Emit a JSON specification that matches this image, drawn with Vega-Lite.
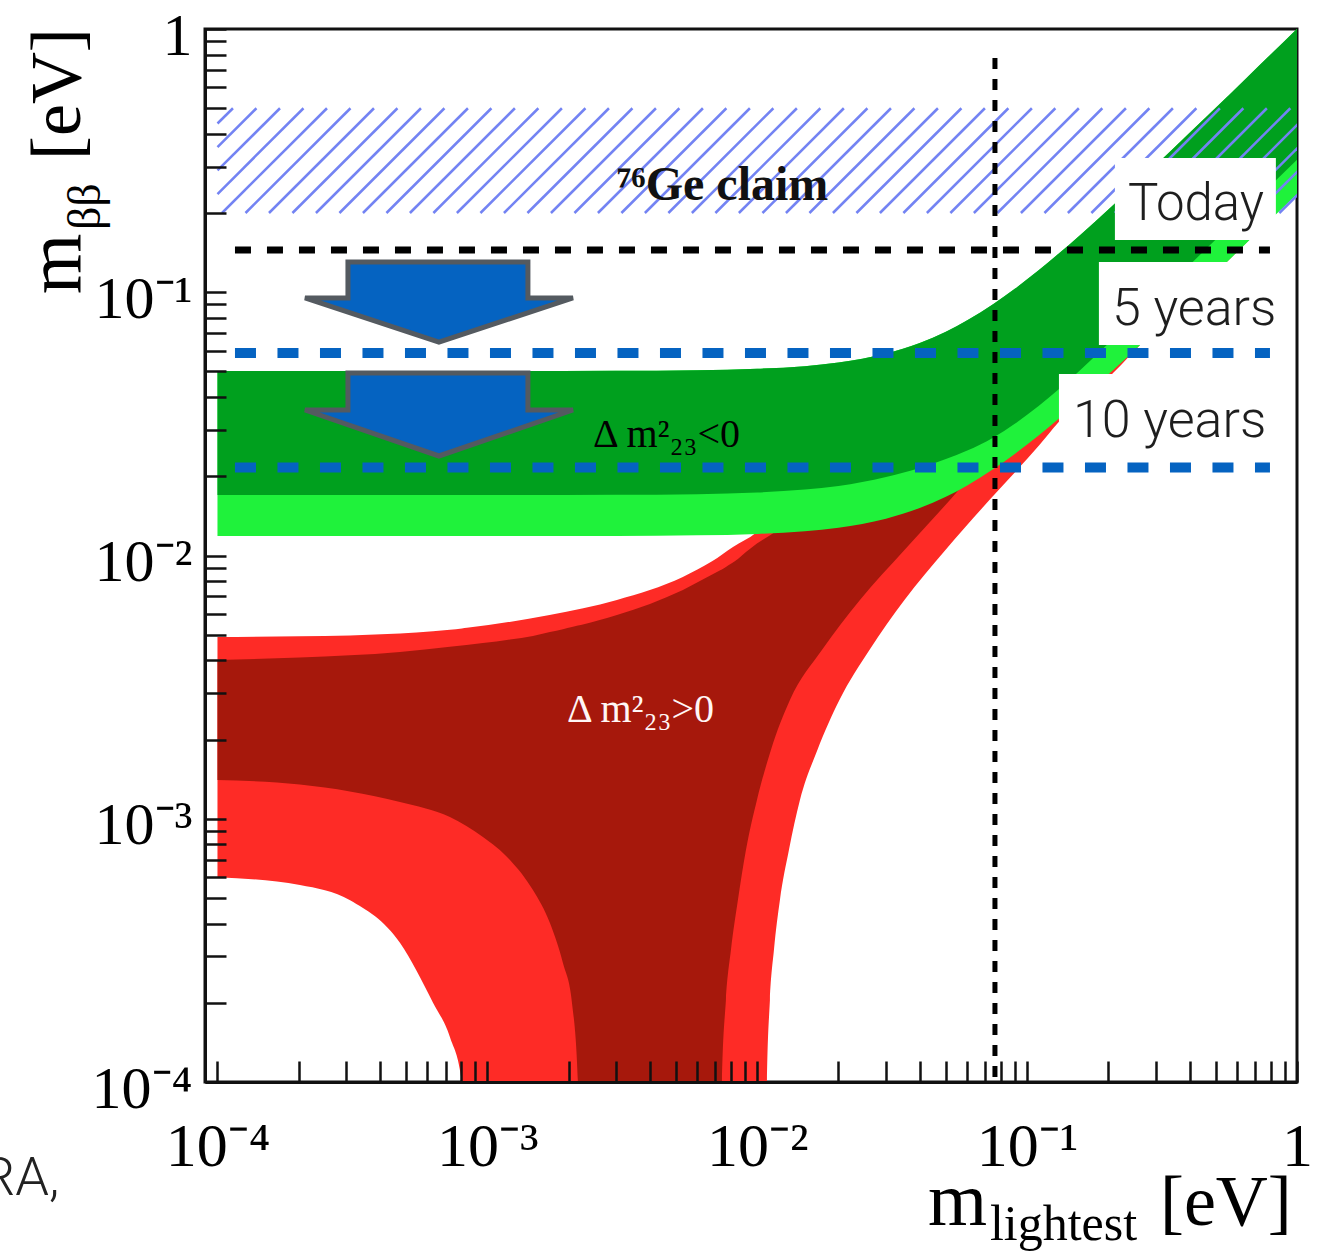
{
"$schema": "https://vega.github.io/schema/vega-lite/v6.json",
"width": 1092,
"height": 1053,
"autosize": "none",
"padding": {"left": 205, "top": 29, "right": 26, "bottom": 172},
"background": "#ffffff",
"config": {"view": {"stroke": "#111111", "strokeWidth": 3}, "axis": {"labelFont": "Liberation Serif"}},
"datasets": {
"one": [{"k": 1}],
"nh3": [
{"m":0.0001,"lo":0.0006,"hi":0.0049},
{"m":0.000202,"lo":0.00056,"hi":0.00493},
{"m":0.00031,"lo":0.00049,"hi":0.00497},
{"m":0.000475,"lo":0.000337,"hi":0.00505},
{"m":0.000629,"lo":0.0002,"hi":0.00515},
{"m":0.000727,"lo":0.000148,"hi":0.00522},
{"m":0.000805,"lo":0.0001,"hi":0.00528},
{"m":0.00084,"lo":0.000001,"hi":0.00531},
{"m":0.0017,"lo":0.000001,"hi":0.00594},
{"m":0.00302,"lo":0.000001,"hi":0.00678},
{"m":0.0053,"lo":0.000001,"hi":0.00829},
{"m":0.0068,"lo":0.000001,"hi":0.0095},
{"m":0.00813,"lo":0.000001,"hi":0.01077},
{"m":0.0099,"lo":0.000001,"hi":0.0122},
{"m":0.0107,"lo":0.000001,"hi":0.0131},
{"m":0.010862,"lo":0.0001,"hi":0.0133},
{"m":0.011143,"lo":0.00020491,"hi":0.0136},
{"m":0.01153,"lo":0.0003172,"hi":0.0139},
{"m":0.012135,"lo":0.0004912,"hi":0.0145},
{"m":0.013104,"lo":0.0007608,"hi":0.0155},
{"m":0.014395,"lo":0.0011779,"hi":0.0168},
{"m":0.016707,"lo":0.0018247,"hi":0.019},
{"m":0.020163,"lo":0.0028259,"hi":0.0225},
{"m":0.026042,"lo":0.004375,"hi":0.0285},
{"m":0.035112,"lo":0.006776,"hi":0.037},
{"m":0.04981,"lo":0.010493,"hi":0.051},
{"m":0.07248,"lo":0.016247,"hi":0.073},
{"m":0.11106,"lo":0.026288,"hi":0.11},
{"m":0.13,"lo":0.0319,"hi":0.128},
{"m":0.186,"lo":0.044,"hi":0.18},
{"m":0.3,"lo":0.0725,"hi":0.29},
{"m":0.437,"lo":0.104,"hi":0.42},
{"m":1,"lo":0.24,"hi":0.97}
],
"nh1": [
{"m":0.0001,"lo":0.001404,"hi":0.00401},
{"m":0.000202,"lo":0.00135,"hi":0.0041},
{"m":0.0004745,"lo":0.001158,"hi":0.0043},
{"m":0.0007265,"lo":0.001015,"hi":0.0045},
{"m":0.000963,"lo":0.000852,"hi":0.00465},
{"m":0.0012128,"lo":0.000697,"hi":0.0048},
{"m":0.0014755,"lo":0.000536,"hi":0.00495},
{"m":0.0017056,"lo":0.000402,"hi":0.00512},
{"m":0.0019058,"lo":0.000283,"hi":0.00525},
{"m":0.002058,"lo":0.0002,"hi":0.00535},
{"m":0.002166,"lo":0.0001,"hi":0.00542},
{"m":0.00222,"lo":0.000001,"hi":0.00545},
{"m":0.003021,"lo":0.000001,"hi":0.00594},
{"m":0.005305,"lo":0.000001,"hi":0.0074},
{"m":0.00732,"lo":0.000001,"hi":0.0088},
{"m":0.007399,"lo":0.0001,"hi":0.00885},
{"m":0.007655,"lo":0.00020491,"hi":0.00905},
{"m":0.007989,"lo":0.0003172,"hi":0.0093},
{"m":0.00848,"lo":0.0004912,"hi":0.0097},
{"m":0.009081,"lo":0.0007608,"hi":0.0103},
{"m":0.009974,"lo":0.0011779,"hi":0.0111},
{"m":0.011238,"lo":0.0018247,"hi":0.012},
{"m":0.013216,"lo":0.0028259,"hi":0.0135},
{"m":0.017362,"lo":0.004375,"hi":0.0175},
{"m":0.024021,"lo":0.006776,"hi":0.024},
{"m":0.035112,"lo":0.010493,"hi":0.035},
{"m":0.05176,"lo":0.016247,"hi":0.051},
{"m":0.1,"lo":0.035,"hi":0.097},
{"m":0.3,"lo":0.1,"hi":0.29},
{"m":1,"lo":0.33,"hi":0.96}
],
"ih": [
{"m":0.0001,"top":0.0502,"lo3":0.01185,"lo1":0.01697},
{"m":0.001,"top":0.0502,"lo3":0.01185,"lo1":0.01697},
{"m":0.003,"top":0.05029,"lo3":0.01187,"lo1":0.017},
{"m":0.006,"top":0.05056,"lo3":0.01193,"lo1":0.01709},
{"m":0.01,"top":0.05119,"lo3":0.01208,"lo1":0.01735},
{"m":0.015,"top":0.05239,"lo3":0.01236,"lo1":0.01781},
{"m":0.02,"top":0.05404,"lo3":0.01275,"lo1":0.01837},
{"m":0.03,"top":0.05848,"lo3":0.0138,"lo1":0.01988},
{"m":0.04,"top":0.06419,"lo3":0.01515,"lo1":0.0215},
{"m":0.05,"top":0.07085,"lo3":0.01672,"lo1":0.02324},
{"m":0.06,"top":0.07823,"lo3":0.01846,"lo1":0.02503},
{"m":0.075,"top":0.09025,"lo3":0.0213,"lo1":0.02807},
{"m":0.09,"top":0.10305,"lo3":0.02432,"lo1":0.03164},
{"m":0.11,"top":0.12091,"lo3":0.02853,"lo1":0.03688},
{"m":0.13,"top":0.13936,"lo3":0.03289,"lo1":0.0425},
{"m":0.16,"top":0.16769,"lo3":0.03957,"lo1":0.05148},
{"m":0.2,"top":0.2062,"lo3":0.04866,"lo1":0.06392},
{"m":0.25,"top":0.25499,"lo3":0.06018,"lo1":0.07956},
{"m":0.3,"top":0.30417,"lo3":0.07178,"lo1":0.09551},
{"m":0.4,"top":0.40314,"lo3":0.09514,"lo1":0.12699},
{"m":0.5,"top":0.50252,"lo3":0.11859,"lo1":0.1588},
{"m":0.65,"top":0.65194,"lo3":0.15386,"lo1":0.20667},
{"m":0.8,"top":0.80157,"lo3":0.18917,"lo1":0.2549},
{"m":1,"top":1.00126,"lo3":0.2363,"lo1":0.3184}
],
"hatch": [
{"hx":0.0001,"hy":0.4376,"hx2":0.00011411,"hy2":0.5},
{"hx":0.0001,"hy":0.3562,"hx2":0.00013945,"hy2":0.5},
{"hx":0.0001,"hy":0.2901,"hx2":0.00017044,"hy2":0.5},
{"hx":0.0001,"hy":0.2361,"hx2":0.00020831,"hy2":0.5},
{"hx":0.00010392,"hy":0.2,"hx2":0.00025452,"hy2":0.5},
{"hx":0.000127,"hy":0.2,"hx2":0.00031105,"hy2":0.5},
{"hx":0.00015518,"hy":0.2,"hx2":0.00038007,"hy2":0.5},
{"hx":0.00018961,"hy":0.2,"hx2":0.00046439,"hy2":0.5},
{"hx":0.00023169,"hy":0.2,"hx2":0.00056746,"hy2":0.5},
{"hx":0.0002831,"hy":0.2,"hx2":0.00069337,"hy2":0.5},
{"hx":0.00034591,"hy":0.2,"hx2":0.0008472,"hy2":0.5},
{"hx":0.00042267,"hy":0.2,"hx2":0.0010352,"hy2":0.5},
{"hx":0.00051646,"hy":0.2,"hx2":0.0012649,"hy2":0.5},
{"hx":0.00063106,"hy":0.2,"hx2":0.0015456,"hy2":0.5},
{"hx":0.00077109,"hy":0.2,"hx2":0.0018886,"hy2":0.5},
{"hx":0.00094282,"hy":0.2,"hx2":0.0023092,"hy2":0.5},
{"hx":0.0011522,"hy":0.2,"hx2":0.002822,"hy2":0.5},
{"hx":0.0014078,"hy":0.2,"hx2":0.003448,"hy2":0.5},
{"hx":0.0017202,"hy":0.2,"hx2":0.0042131,"hy2":0.5},
{"hx":0.0021019,"hy":0.2,"hx2":0.005148,"hy2":0.5},
{"hx":0.0025684,"hy":0.2,"hx2":0.0062905,"hy2":0.5},
{"hx":0.0031383,"hy":0.2,"hx2":0.0076863,"hy2":0.5},
{"hx":0.0038347,"hy":0.2,"hx2":0.009392,"hy2":0.5},
{"hx":0.0046857,"hy":0.2,"hx2":0.0114762,"hy2":0.5},
{"hx":0.0057254,"hy":0.2,"hx2":0.0140226,"hy2":0.5},
{"hx":0.0069959,"hy":0.2,"hx2":0.0171344,"hy2":0.5},
{"hx":0.0085482,"hy":0.2,"hx2":0.0209363,"hy2":0.5},
{"hx":0.010454,"hy":0.2,"hx2":0.025604,"hy2":0.5},
{"hx":0.012776,"hy":0.2,"hx2":0.031291,"hy2":0.5},
{"hx":0.015611,"hy":0.2,"hx2":0.038234,"hy2":0.5},
{"hx":0.019075,"hy":0.2,"hx2":0.046718,"hy2":0.5},
{"hx":0.023308,"hy":0.2,"hx2":0.057086,"hy2":0.5},
{"hx":0.02848,"hy":0.2,"hx2":0.069753,"hy2":0.5},
{"hx":0.034799,"hy":0.2,"hx2":0.08523,"hy2":0.5},
{"hx":0.04252,"hy":0.2,"hx2":0.10414,"hy2":0.5},
{"hx":0.051954,"hy":0.2,"hx2":0.12725,"hy2":0.5},
{"hx":0.063482,"hy":0.2,"hx2":0.15548,"hy2":0.5},
{"hx":0.077568,"hy":0.2,"hx2":0.18998,"hy2":0.5},
{"hx":0.094845,"hy":0.2,"hx2":0.23229,"hy2":0.5},
{"hx":0.11591,"hy":0.2,"hx2":0.28389,"hy2":0.5},
{"hx":0.14162,"hy":0.2,"hx2":0.34686,"hy2":0.5},
{"hx":0.17305,"hy":0.2,"hx2":0.42383,"hy2":0.5},
{"hx":0.21145,"hy":0.2,"hx2":0.51789,"hy2":0.5},
{"hx":0.25838,"hy":0.2,"hx2":0.63282,"hy2":0.5},
{"hx":0.31571,"hy":0.2,"hx2":0.77324,"hy2":0.5},
{"hx":0.38576,"hy":0.2,"hx2":0.9448,"hy2":0.5},
{"hx":0.47137,"hy":0.2,"hx2":1.15448,"hy2":0.5},
{"hx":0.57596,"hy":0.2,"hx2":1.41064,"hy2":0.5},
{"hx":0.70377,"hy":0.2,"hx2":1.72367,"hy2":0.5},
{"hx":0.86006,"hy":0.2,"hx2":2.10646,"hy2":0.5}
],
"arrows": [
{"a":1,"o":1,"x":0.0003044,"y":0.1302},
{"a":1,"o":2,"x":0.0014135,"y":0.1302},
{"a":1,"o":3,"x":0.0014135,"y":0.0951},
{"a":1,"o":4,"x":0.002076,"y":0.0951},
{"a":1,"o":5,"x":0.0006615,"y":0.06471},
{"a":1,"o":6,"x":0.000211,"y":0.0951},
{"a":1,"o":7,"x":0.0003044,"y":0.0951},
{"a":1,"o":8,"x":0.0003044,"y":0.1302},
{"a":1,"o":9,"x":0.0014135,"y":0.1302},
{"a":2,"o":1,"x":0.0003044,"y":0.04934},
{"a":2,"o":2,"x":0.0014135,"y":0.04934},
{"a":2,"o":3,"x":0.0014135,"y":0.0357},
{"a":2,"o":4,"x":0.002076,"y":0.0357},
{"a":2,"o":5,"x":0.0006615,"y":0.02388},
{"a":2,"o":6,"x":0.000211,"y":0.0357},
{"a":2,"o":7,"x":0.0003044,"y":0.0357},
{"a":2,"o":8,"x":0.0003044,"y":0.04934},
{"a":2,"o":9,"x":0.0014135,"y":0.04934}
]
},
"layer": [
{"data": {"name": "nh3"},
 "mark": {"type": "area", "color": "#fe2b26", "opacity": 1, "clip": true, "interpolate": "monotone"},
 "encoding": {
  "x": {"field": "m", "type": "quantitative", "scale": {"type": "log", "domain": [0.0000899, 1], "nice": false},
   "axis": {"orient": "bottom", "title": null, "grid": false, "domain": true, "domainColor": "#111111", "domainWidth": 3,
    "ticks": true, "tickSize": -21, "tickColor": "#111111", "tickWidth": 2.5,
    "values": [0.0001,0.0002,0.0003,0.0004,0.0005,0.0006,0.0007,0.0008,0.0009,0.001,0.002,0.003,0.004,0.005,0.006,0.007,0.008,0.009,0.01,0.02,0.03,0.04,0.05,0.06,0.07,0.08,0.09,0.1,0.2,0.3,0.4,0.5,0.6,0.7,0.8,0.9,1],
    "labelExpr": "abs(log(datum.value)/LN10 - round(log(datum.value)/LN10)) > 0.01 ? '' : (round(log(datum.value)/LN10) == 0 ? '1' : '10⁻' + ['', '¹', '²', '³', '⁴'][-round(log(datum.value)/LN10)])",
    "labelFont": "Liberation Serif", "labelFontSize": 62, "labelColor": "#000000", "labelPadding": 104, "labelBaseline": "alphabetic", "labelAlign": "center",
    "labelFlush": false, "labelOverlap": false, "labelBound": false, "zindex": 1,
    "encode": {"ticks": {"y2": {"condition": {"test": "abs(log(datum.value)/LN10 - round(log(datum.value)/LN10)) < 0.01", "value": -40}, "value": -21}}}}},
  "y": {"field": "hi", "type": "quantitative", "scale": {"type": "log", "domain": [0.0001, 1], "nice": false},
   "axis": {"orient": "left", "title": null, "grid": false, "domain": true, "domainColor": "#111111", "domainWidth": 3,
    "ticks": true, "tickSize": -21, "tickColor": "#111111", "tickWidth": 2.5,
    "values": [0.0001,0.0002,0.0003,0.0004,0.0005,0.0006,0.0007,0.0008,0.0009,0.001,0.002,0.003,0.004,0.005,0.006,0.007,0.008,0.009,0.01,0.02,0.03,0.04,0.05,0.06,0.07,0.08,0.09,0.1,0.2,0.3,0.4,0.5,0.6,0.7,0.8,0.9,1],
    "labelExpr": "abs(log(datum.value)/LN10 - round(log(datum.value)/LN10)) > 0.01 ? '' : (round(log(datum.value)/LN10) == 0 ? '1' : '10⁻' + ['', '¹', '²', '³', '⁴'][-round(log(datum.value)/LN10)])",
    "labelFont": "Liberation Serif", "labelFontSize": 60, "labelColor": "#000000", "labelPadding": 34, "labelAlign": "right", "labelBaseline": "alphabetic", "labelOffset": 25,
    "labelFlush": false, "labelOverlap": false, "labelBound": false, "zindex": 1,
    "encode": {"ticks": {"x2": {"condition": {"test": "abs(log(datum.value)/LN10 - round(log(datum.value)/LN10)) < 0.01", "value": 38}, "value": 21}}}}},
  "y2": {"field": "lo"}
 }},
{"data": {"name": "nh1"},
 "mark": {"type": "area", "color": "#a6180c", "opacity": 1, "clip": true, "interpolate": "monotone"},
 "encoding": {
  "x": {"field": "m", "type": "quantitative", "scale": {"type": "log", "domain": [0.0000899, 1], "nice": false}},
  "y": {"field": "hi", "type": "quantitative", "scale": {"type": "log", "domain": [0.0001, 1], "nice": false}},
  "y2": {"field": "lo"}
 }},
{"data": {"name": "ih"},
 "mark": {"type": "area", "color": "#1ff23b", "opacity": 1, "clip": true, "interpolate": "monotone"},
 "encoding": {
  "x": {"field": "m", "type": "quantitative", "scale": {"type": "log", "domain": [0.0000899, 1], "nice": false}},
  "y": {"field": "top", "type": "quantitative", "scale": {"type": "log", "domain": [0.0001, 1], "nice": false}},
  "y2": {"field": "lo3"}
 }},
{"data": {"name": "ih"},
 "mark": {"type": "area", "color": "#00a01e", "opacity": 1, "clip": true, "interpolate": "monotone"},
 "encoding": {
  "x": {"field": "m", "type": "quantitative", "scale": {"type": "log", "domain": [0.0000899, 1], "nice": false}},
  "y": {"field": "top", "type": "quantitative", "scale": {"type": "log", "domain": [0.0001, 1], "nice": false}},
  "y2": {"field": "lo1"}
 }},
{"data": {"name": "hatch"},
 "mark": {"type": "rule", "color": "#7383f3", "strokeWidth": 2.5, "clip": true},
 "encoding": {
  "x": {"field": "hx", "type": "quantitative", "scale": {"type": "log", "domain": [0.0000899, 1], "nice": false}},
  "y": {"field": "hy", "type": "quantitative", "scale": {"type": "log", "domain": [0.0001, 1], "nice": false}},
  "x2": {"field": "hx2"},
  "y2": {"field": "hy2"}
 }},
{"data": {"name": "one"},
 "mark": {"type": "rule", "color": "#000000", "strokeWidth": 5, "strokeDash": [11, 10], "strokeCap": "butt"},
 "encoding": {
  "x": {"datum": 0.076, "type": "quantitative", "scale": {"type": "log", "domain": [0.0000899, 1], "nice": false}},
  "y": {"datum": 0.776, "type": "quantitative", "scale": {"type": "log", "domain": [0.0001, 1], "nice": false}},
  "y2": {"datum": 0.0001}
 }},
{"data": {"name": "one"},
 "mark": {"type": "text", "text": "⁷⁶Ge claim", "font": "Liberation Serif", "fontWeight": "bold", "fontSize": 48, "align": "left", "baseline": "alphabetic", "color": "#111111"},
 "encoding": {
  "x": {"datum": 0.003021, "type": "quantitative", "scale": {"type": "log", "domain": [0.0000899, 1], "nice": false}},
  "y": {"datum": 0.2241, "type": "quantitative", "scale": {"type": "log", "domain": [0.0001, 1], "nice": false}}
 }},
{"data": {"name": "one"},
 "mark": {"type": "text", "text": "Δ m²₂₃<0", "font": "Liberation Serif", "fontSize": 40, "align": "left", "baseline": "alphabetic", "color": "#000000"},
 "encoding": {
  "x": {"datum": 0.002461, "type": "quantitative", "scale": {"type": "log", "domain": [0.0000899, 1], "nice": false}},
  "y": {"datum": 0.02584, "type": "quantitative", "scale": {"type": "log", "domain": [0.0001, 1], "nice": false}}
 }},
{"data": {"name": "one"},
 "mark": {"type": "text", "text": "Δ m²₂₃>0", "font": "Liberation Serif", "fontSize": 40, "align": "left", "baseline": "alphabetic", "color": "#fff6f6"},
 "encoding": {
  "x": {"datum": 0.001972, "type": "quantitative", "scale": {"type": "log", "domain": [0.0000899, 1], "nice": false}},
  "y": {"datum": 0.002331, "type": "quantitative", "scale": {"type": "log", "domain": [0.0001, 1], "nice": false}}
 }},
{"data": {"name": "one"},
 "mark": {"type": "rect", "color": "#ffffff", "opacity": 1},
 "encoding": {
  "x": {"datum": 0.2115, "type": "quantitative", "scale": {"type": "log", "domain": [0.0000899, 1], "nice": false}},
  "x2": {"datum": 0.8351},
  "y": {"datum": 0.3236, "type": "quantitative", "scale": {"type": "log", "domain": [0.0001, 1], "nice": false}},
  "y2": {"datum": 0.158}
 }},
{"data": {"name": "one"},
 "mark": {"type": "rect", "color": "#ffffff", "opacity": 1},
 "encoding": {
  "x": {"datum": 0.1845, "type": "quantitative", "scale": {"type": "log", "domain": [0.0000899, 1], "nice": false}},
  "x2": {"datum": 0.8351},
  "y": {"datum": 0.1302, "type": "quantitative", "scale": {"type": "log", "domain": [0.0001, 1], "nice": false}},
  "y2": {"datum": 0.063}
 }},
{"data": {"name": "one"},
 "mark": {"type": "rect", "color": "#ffffff", "opacity": 1},
 "encoding": {
  "x": {"datum": 0.1312, "type": "quantitative", "scale": {"type": "log", "domain": [0.0000899, 1], "nice": false}},
  "x2": {"datum": 0.8351},
  "y": {"datum": 0.0489, "type": "quantitative", "scale": {"type": "log", "domain": [0.0001, 1], "nice": false}},
  "y2": {"datum": 0.02347}
 }},
{"data": {"name": "one"},
 "mark": {"type": "text", "text": "Today", "font": "Roboto", "fontWeight": 300, "fontSize": 51, "align": "left", "baseline": "alphabetic", "color": "#1e1e1e"},
 "encoding": {
  "x": {"datum": 0.2363, "type": "quantitative", "scale": {"type": "log", "domain": [0.0000899, 1], "nice": false}},
  "y": {"datum": 0.188, "type": "quantitative", "scale": {"type": "log", "domain": [0.0001, 1], "nice": false}}
 }},
{"data": {"name": "one"},
 "mark": {"type": "text", "text": "5 years", "font": "Roboto", "fontWeight": 300, "fontSize": 52, "align": "left", "baseline": "alphabetic", "color": "#1e1e1e"},
 "encoding": {
  "x": {"datum": 0.2061, "type": "quantitative", "scale": {"type": "log", "domain": [0.0000899, 1], "nice": false}},
  "y": {"datum": 0.0751, "type": "quantitative", "scale": {"type": "log", "domain": [0.0001, 1], "nice": false}}
 }},
{"data": {"name": "one"},
 "mark": {"type": "text", "text": "10 years", "font": "Roboto", "fontWeight": 300, "fontSize": 52, "align": "left", "baseline": "alphabetic", "color": "#1e1e1e"},
 "encoding": {
  "x": {"datum": 0.1478, "type": "quantitative", "scale": {"type": "log", "domain": [0.0000899, 1], "nice": false}},
  "y": {"datum": 0.02818, "type": "quantitative", "scale": {"type": "log", "domain": [0.0001, 1], "nice": false}}
 }},
{"data": {"name": "one"},
 "mark": {"type": "rule", "color": "#000000", "strokeWidth": 7, "strokeDash": [16, 16], "strokeCap": "butt"},
 "encoding": {
  "x": {"datum": 0.0001161, "type": "quantitative", "scale": {"type": "log", "domain": [0.0000899, 1], "nice": false}},
  "x2": {"datum": 0.794},
  "y": {"datum": 0.1447, "type": "quantitative", "scale": {"type": "log", "domain": [0.0001, 1], "nice": false}}
 }},
{"data": {"name": "one"},
 "mark": {"type": "rule", "color": "#0563c1", "strokeWidth": 10, "strokeDash": [21, 21.5], "strokeCap": "butt"},
 "encoding": {
  "x": {"datum": 0.0001161, "type": "quantitative", "scale": {"type": "log", "domain": [0.0000899, 1], "nice": false}},
  "x2": {"datum": 0.794},
  "y": {"datum": 0.0588, "type": "quantitative", "scale": {"type": "log", "domain": [0.0001, 1], "nice": false}}
 }},
{"data": {"name": "one"},
 "mark": {"type": "rule", "color": "#0563c1", "strokeWidth": 10, "strokeDash": [21, 21.5], "strokeCap": "butt"},
 "encoding": {
  "x": {"datum": 0.0001161, "type": "quantitative", "scale": {"type": "log", "domain": [0.0000899, 1], "nice": false}},
  "x2": {"datum": 0.794},
  "y": {"datum": 0.0216, "type": "quantitative", "scale": {"type": "log", "domain": [0.0001, 1], "nice": false}}
 }},
{"data": {"name": "arrows"},
 "mark": {"type": "line", "fill": "#0563c1", "stroke": "#545a60", "strokeWidth": 5, "strokeJoin": "miter"},
 "encoding": {
  "x": {"field": "x", "type": "quantitative", "scale": {"type": "log", "domain": [0.0000899, 1], "nice": false}},
  "y": {"field": "y", "type": "quantitative", "scale": {"type": "log", "domain": [0.0001, 1], "nice": false}},
  "detail": {"field": "a"},
  "order": {"field": "o"}
 }},
{"data": {"name": "one"},
 "mark": {"type": "text", "text": "m", "font": "Liberation Serif", "fontSize": 78, "angle": 270, "align": "left", "baseline": "alphabetic", "color": "#000000"},
 "encoding": {
  "x": {"datum": 0.000030945, "type": "quantitative", "scale": {"type": "log", "domain": [0.0000899, 1], "nice": false}},
  "y": {"datum": 0.0982, "type": "quantitative", "scale": {"type": "log", "domain": [0.0001, 1], "nice": false}}
 }},
{"data": {"name": "one"},
 "mark": {"type": "text", "text": "ββ", "font": "Liberation Serif", "fontSize": 46, "angle": 270, "align": "left", "baseline": "alphabetic", "color": "#000000"},
 "encoding": {
  "x": {"datum": 0.0000367, "type": "quantitative", "scale": {"type": "log", "domain": [0.0000899, 1], "nice": false}},
  "y": {"datum": 0.1723, "type": "quantitative", "scale": {"type": "log", "domain": [0.0001, 1], "nice": false}}
 }},
{"data": {"name": "one"},
 "mark": {"type": "text", "text": "[eV]", "font": "Liberation Serif", "fontSize": 72, "angle": 270, "align": "left", "baseline": "alphabetic", "color": "#000000"},
 "encoding": {
  "x": {"datum": 0.000030945, "type": "quantitative", "scale": {"type": "log", "domain": [0.0000899, 1], "nice": false}},
  "y": {"datum": 0.3178, "type": "quantitative", "scale": {"type": "log", "domain": [0.0001, 1], "nice": false}}
 }},
{"data": {"name": "one"},
 "mark": {"type": "text", "text": "m", "font": "Liberation Serif", "fontSize": 76, "align": "left", "baseline": "alphabetic", "color": "#000000"},
 "encoding": {
  "x": {"datum": 0.0429, "type": "quantitative", "scale": {"type": "log", "domain": [0.0000899, 1], "nice": false}},
  "y": {"datum": 0.00002862, "type": "quantitative", "scale": {"type": "log", "domain": [0.0001, 1], "nice": false}}
 }},
{"data": {"name": "one"},
 "mark": {"type": "text", "text": "lightest", "font": "Liberation Serif", "fontSize": 50, "align": "left", "baseline": "alphabetic", "color": "#000000"},
 "encoding": {
  "x": {"datum": 0.07279, "type": "quantitative", "scale": {"type": "log", "domain": [0.0000899, 1], "nice": false}},
  "y": {"datum": 0.0000251, "type": "quantitative", "scale": {"type": "log", "domain": [0.0001, 1], "nice": false}}
 }},
{"data": {"name": "one"},
 "mark": {"type": "text", "text": "[eV]", "font": "Liberation Serif", "fontSize": 72, "align": "left", "baseline": "alphabetic", "color": "#000000"},
 "encoding": {
  "x": {"datum": 0.3105, "type": "quantitative", "scale": {"type": "log", "domain": [0.0000899, 1], "nice": false}},
  "y": {"datum": 0.00002862, "type": "quantitative", "scale": {"type": "log", "domain": [0.0001, 1], "nice": false}}
 }},
{"data": {"name": "one"},
 "mark": {"type": "text", "text": "RA,", "font": "Roboto", "fontWeight": 300, "fontSize": 54, "align": "left", "baseline": "alphabetic", "color": "#222222"},
 "encoding": {
  "x": {"datum": 0.000013295, "type": "quantitative", "scale": {"type": "log", "domain": [0.0000899, 1], "nice": false}},
  "y": {"datum": 0.00003722, "type": "quantitative", "scale": {"type": "log", "domain": [0.0001, 1], "nice": false}}
 }}
]
}
